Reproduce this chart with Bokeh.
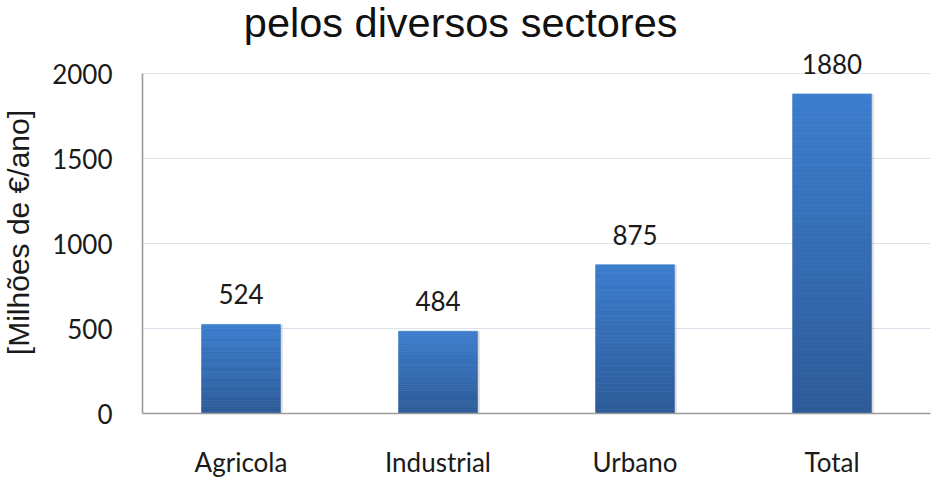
import math
from bokeh.plotting import figure
from bokeh.layouts import row
from bokeh.models import ColumnDataSource, FactorRange, Range1d, FixedTicker, LabelSet, Label
from bokeh.transform import dodge
from bokeh.core.properties import value
from bokeh.embed import file_html
from bokeh.resources import INLINE

categories = ["Agricola", "Industrial", "Urbano", "Total"]
values = [524, 484, 875, 1880]
y_ticks = [0, 500, 1000, 1500, 2000]
title_text = "pelos diversos sectores"
y_label = "[Milhões de €/ano]"
label_texts = [str(v) for v in values]

top_rgb = (60, 125, 206)
bot_rgb = (45, 91, 153)

W, H = 936, 493
label_w = 40
main_w = W - label_w
border_bottom = 80
border_left = 142 - label_w
frame_h = H - border_bottom
axis_top_px = 73  # pixel row of the 2000 gridline
y_max = 2000
y_end = y_max * frame_h / (frame_h - axis_top_px)

# narrow strip holding the rotated y-axis title
lab = figure(width=label_w, height=H, x_range=Range1d(0, label_w), y_range=Range1d(H, 0),
             x_axis_location=None, y_axis_location=None, output_backend="svg",
             toolbar_location=None, min_border=0)
lab.outline_line_color = None
lab.grid.visible = False
lab.add_layout(Label(x=17.5, y=277, text=y_label, angle=math.pi / 2,
                     text_align="center", text_baseline="middle",
                     text_font="Liberation Sans", text_font_size="30px",
                     text_color="#1a1a1a"))

p = figure(width=main_w, height=H, x_range=FactorRange(*categories),
           y_range=Range1d(0, y_end), output_backend="svg", toolbar_location=None,
           min_border_left=border_left, min_border_right=6, min_border_top=0,
           min_border_bottom=border_bottom)

p.outline_line_color = None
p.background_fill_color = "white"
p.border_fill_color = "white"

# title (second line of the original title, partly cut at the top)
p.add_layout(Label(x=1.615, y=y_end * (frame_h - 22) / frame_h, text=title_text,
                   text_align="center", text_baseline="alphabetic",
                   text_font="Liberation Sans", text_font_size="41.5px",
                   text_color="#111111"))

# shadow
p.vbar(x=dodge("x", 0.012, range=p.x_range), top="top", width=0.4,
       source=ColumnDataSource(dict(x=categories, top=values)),
       fill_color="#9a9a9a", fill_alpha=0.35, line_color=None)

# gradient bars built from slices of each value
n = 40
xs, bs, ts, cs = [], [], [], []
for cat, v in zip(categories, values):
    for i in range(n):
        t = (i + 0.5) / n
        col = tuple(int(round(bot_rgb[k] + t * (top_rgb[k] - bot_rgb[k]))) for k in range(3))
        xs.append(cat)
        bs.append(v * i / n)
        ts.append(v * (i + 1) / n)
        cs.append("#%02x%02x%02x" % col)
p.vbar(x="x", bottom="b", top="t", width=0.4,
       source=ColumnDataSource(dict(x=xs, b=bs, t=ts, c=cs)),
       fill_color="c", line_color="c", line_width=0.6)

# value labels
lab_src = ColumnDataSource(dict(x=categories, y=values, txt=label_texts))
p.add_layout(LabelSet(x="x", y="y", text="txt", source=lab_src,
                      text_align="center", text_baseline="alphabetic", y_offset=20,
                      text_font=value("Lato"), text_font_size=value("26px"),
                      text_color="#1a1a1a"))

# grid
p.xgrid.visible = False
p.ygrid.grid_line_color = "#dbe2ec"
p.ygrid.grid_line_width = 1.2
p.ygrid.ticker = FixedTicker(ticks=y_ticks)

# axes
p.yaxis.ticker = FixedTicker(ticks=y_ticks)
p.yaxis.bounds = (0, y_max)
for ax in (p.xaxis[0], p.yaxis[0]):
    ax.axis_line_color = "#9c9c9c"
    ax.axis_line_width = 1.6
    ax.major_tick_line_color = None
    ax.minor_tick_line_color = None
    ax.major_tick_out = 0
    ax.major_tick_in = 0
    ax.major_label_text_font = "Lato"
    ax.major_label_text_font_size = "26px"
    ax.major_label_text_color = "#1a1a1a"

p.yaxis.major_label_standoff = 30
p.xaxis.major_label_standoff = 32
p.xaxis.major_label_orientation = "horizontal"

layout = row(lab, p, spacing=0)
open("out.html", "w").write(file_html(layout, INLINE))
